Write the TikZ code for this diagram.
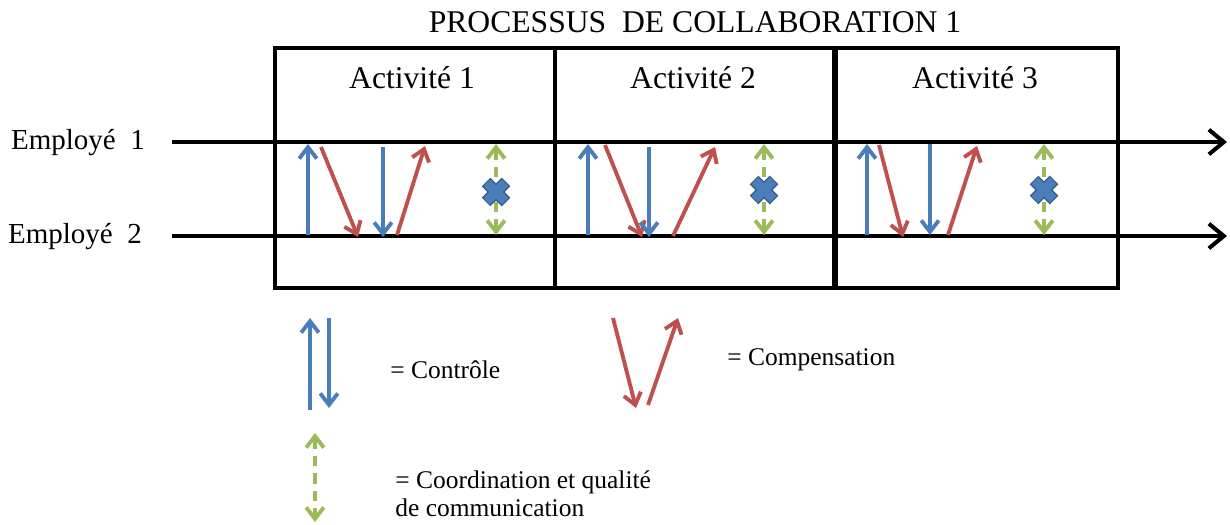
\documentclass[tikz,border=0pt]{standalone}
\usepackage{fontspec}
\setmainfont{Liberation Serif}
\usepackage{xcolor}
\usepackage{tikz}
\usetikzlibrary{arrows.meta}
\definecolor{ctrlBlue}{RGB}{74,126,187}
\definecolor{compRed}{RGB}{192,80,77}
\definecolor{coordGreen}{RGB}{155,187,89}
\definecolor{crossEdge}{RGB}{56,93,138}
\tikzset{
    timeline/.style={line width=2.3pt, -{Straight Barb[length=8.5pt,width=14pt]}},
    ctrl/.style={ctrlBlue, line width=2.2pt, -{Straight Barb[length=6.5pt,width=10pt]}},
    comp/.style={compRed, line width=2.2pt, -{Straight Barb[length=6.5pt,width=10pt]}},
    coord/.style={coordGreen, line width=2.2pt, dash pattern=on 6pt off 4pt,
        {Straight Barb[length=6.5pt,width=10pt]}-{Straight Barb[length=6.5pt,width=10pt]}},
}

\begin{document}
\begin{tikzpicture}[x=0.02cm, y=-0.02cm]
    \useasboundingbox (0,0) rectangle (1230,524);

    % Title and frame
    \node[font=\fontsize{18}{20}\selectfont] (title) at (695,22) {PROCESSUS~ DE COLLABORATION 1};
    \draw[line width=2.3pt] (275,48) rectangle (1118,288);
    \draw[line width=2.3pt] (555,48) -- (555,288);
    \draw[line width=3.3pt] (835,48) -- (835,288);
    \node[font=\fontsize{18}{20}\selectfont] (act1) at (412,78) {Activité 1};
    \node[font=\fontsize{18}{20}\selectfont] (act2) at (693,78) {Activité 2};
    \node[font=\fontsize{18}{20}\selectfont] (act3) at (975,78) {Activité 3};

    % Employees
    \node[font=\fontsize{16.5}{18}\selectfont] (emp1) at (78,143) {Employé~ 1};
    \node[font=\fontsize{16.5}{18}\selectfont] (emp2) at (75,237) {Employé~ 2};
    \coordinate (l1s) at (172,142);
    \coordinate (l1e) at (1227,142);
    \coordinate (l2s) at (172,236);
    \coordinate (l2e) at (1227,236);
    \draw[timeline] (l1s) -- (l1e);
    \draw[timeline] (l2s) -- (l2e);

    % Activite 1
    \draw[ctrl] (308,235) -- (308,144);
    \draw[comp] (321,147) -- (358,237);
    \draw[ctrl] (383,147) -- (383,237);
    \draw[comp] (397,235) -- (425,146);
    \draw[coord] (496,144) -- (496,235);

    % Activite 2
    \draw[ctrl] (588,235) -- (588,144);
    \draw[comp] (605,145) -- (642,237);
    \draw[ctrl] (649,147) -- (649,237);
    \draw[comp] (673,236) -- (715,147);
    \draw[coord] (764,144) -- (764,235);

    % Activite 3
    \draw[ctrl] (867,235) -- (867,144);
    \draw[comp] (879,145) -- (903,237);
    \draw[ctrl] (930,144) -- (930,235);
    \draw[comp] (948,235) -- (977,146);
    \draw[coord] (1044,144) -- (1044,235);

    % Crosses
    \foreach \cx/\cy in {496/192, 764/190, 1044/190} {
        \draw[crossEdge, line width=7pt] (\cx-10,\cy-10) -- (\cx+10,\cy+10);
        \draw[crossEdge, line width=7pt] (\cx-10,\cy+10) -- (\cx+10,\cy-10);
        \draw[ctrlBlue, line width=5.4pt] (\cx-9.2,\cy-9.2) -- (\cx+9.2,\cy+9.2);
        \draw[ctrlBlue, line width=5.4pt] (\cx-9.2,\cy+9.2) -- (\cx+9.2,\cy-9.2);
    }

    % Legend
    \draw[ctrl] (310,410) -- (310,318);
    \draw[ctrl] (329,318) -- (329,408);
    \node[anchor=west, inner sep=0pt, font=\fontsize{14.5}{16}\selectfont] (ctrlTxt) at (390,370) {= Contrôle};
    \draw[comp] (613,318) -- (636,408);
    \draw[comp] (648,405) -- (678,318);
    \node[anchor=west, inner sep=0pt, font=\fontsize{14.5}{16}\selectfont] (compTxt) at (727,360) {= Compensation};
    \draw[coord] (315,433) -- (315,522);
    \node[anchor=west, inner sep=0pt, align=left, font=\fontsize{14.5}{16}\selectfont] (coordTxt) at (395,494) {= Coordination et qualité\\de communication};
\end{tikzpicture}
\end{document}
